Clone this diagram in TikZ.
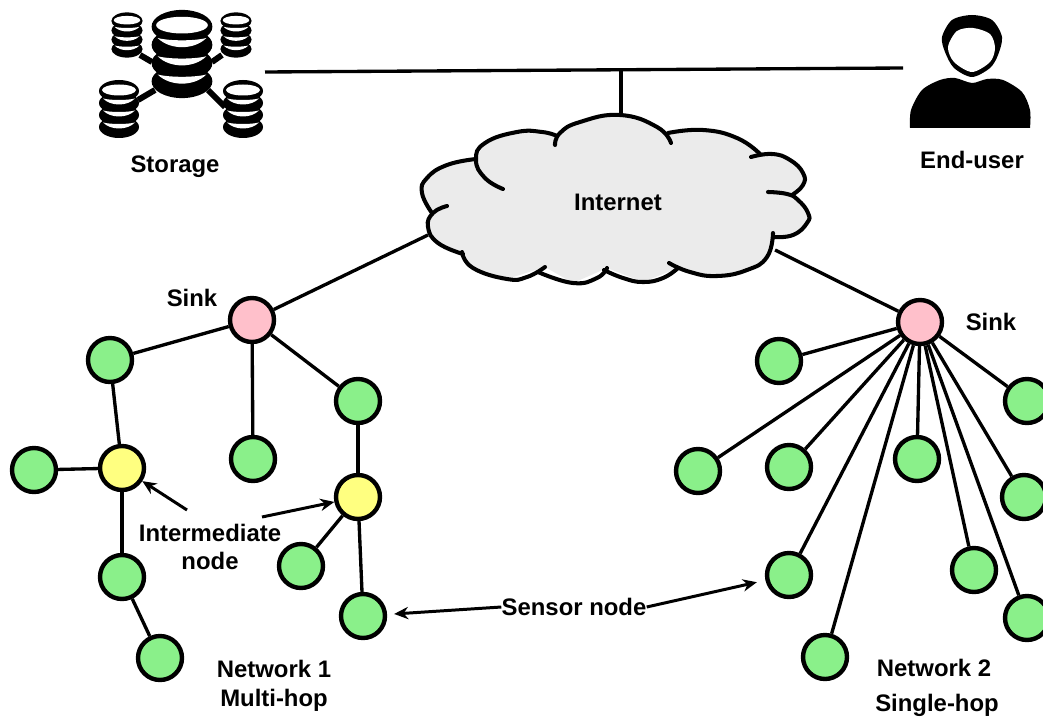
\documentclass[tikz,border=0pt]{standalone}
\usepackage{fontspec}
\setmainfont{Liberation Sans}
\usetikzlibrary{positioning,arrows.meta}
\definecolor{nodegreen}{RGB}{138,240,138}
\definecolor{sinkpink}{RGB}{255,192,203}
\definecolor{hopyellow}{RGB}{255,255,128}
\definecolor{cloudgray}{RGB}{235,235,235}
\tikzset{
  dbicon/.pic={
    \fill (0,-18) ellipse [x radius=20,y radius=11];
    \fill (0,-6) ellipse [x radius=20,y radius=11];
    \fill (0,6) ellipse [x radius=20,y radius=11];
    \fill (0,18) ellipse [x radius=20,y radius=11];
    \fill [white] (0,-19) ellipse [x radius=17,y radius=5.5];
    \fill [white] (-16,-10.5) .. controls (-8,-2.5) and (8,-2.5) .. (16,-10.5) .. controls (8,-8.5) and (-8,-8.5) .. (-16,-10.5);
    \fill [white] (-16,1.5) .. controls (-8,9.5) and (8,9.5) .. (16,1.5) .. controls (8,3.5) and (-8,3.5) .. (-16,1.5);
    \fill [white] (-16,13.5) .. controls (-8,21.5) and (8,21.5) .. (16,13.5) .. controls (8,15.5) and (-8,15.5) .. (-16,13.5);
  }
}
\begin{document}
\begin{tikzpicture}
  [x=0.02cm,y=-0.02cm,
   greenN/.style={circle,draw,line width=2.5pt,fill=nodegreen,minimum size=0.88cm,inner sep=0pt},
   sinkN/.style={greenN,fill=sinkpink},
   hopN/.style={greenN,fill=hopyellow},
   lab/.style={font=\bfseries\fontsize{13.6}{16.4}\selectfont,align=center,inner sep=0pt},
   link/.style={line width=1.9pt},
   lobe/.style={line width=2.3pt,line cap=round},
   pointer/.style={-{Stealth[length=8pt,width=7pt]},line width=1.7pt}]

  \clip (0,0) rectangle (1043,716);

  \fill [cloudgray] (422,193) -- (432,213) -- (428,227) -- (438,243) -- (463,254) -- (473,268) -- (507,279) -- (545,267) -- (573,283) -- (607,268) -- (643,282) -- (678,268) -- (717,276) -- (747,270) -- (767,257) -- (773,237) -- (793,235) -- (807,223) -- (808,213) -- (792,195) -- (803,185) -- (803,173) -- (790,160) -- (760,154) -- (737,138) -- (703,130) -- (668,133) -- (657,127) -- (620,115) -- (580,122) -- (557,136) -- (517,132) -- (485,143) -- (476,159) -- (447,165) -- (427,178) -- cycle;
  \draw [lobe] plot [smooth,tension=0.8] coordinates {(503,189) (485,178) (476,160) (485,143) (517,132) (542,132) (557,136)};
  \draw [lobe] plot [smooth,tension=0.8] coordinates {(476,159) (447,165) (427,178) (422,193) (432,213)};
  \draw [lobe] plot [smooth,tension=0.8] coordinates {(447,206) (433,213) (428,227) (438,243) (463,254)};
  \draw [lobe] plot [smooth,tension=0.8] coordinates {(462,252) (473,268) (507,279) (527,277) (545,267)};
  \draw [lobe] plot [smooth,tension=0.8] coordinates {(538,272) (573,283) (597,278) (607,268)};
  \draw [lobe] plot [smooth,tension=0.8] coordinates {(604,270) (623,278) (643,282) (663,278) (678,268)};
  \draw [lobe] plot [smooth,tension=0.8] coordinates {(669,263) (690,272) (717,276) (747,270) (767,257) (773,233)};
  \draw [lobe] plot [smooth,tension=0.8] coordinates {(773,237) (793,235) (807,223) (808,213) (798,200) (787,194) (768,192)};
  \draw [lobe] plot [smooth,tension=0.8] coordinates {(792,195) (803,185) (803,173) (790,160) (772,154) (751,157)};
  \draw [lobe] plot [smooth,tension=0.8] coordinates {(760,154) (737,138) (703,130) (668,133)};
  \draw [lobe] plot [smooth,tension=0.8] coordinates {(671,143) (657,127) (620,115) (580,122) (560,133) (555,145)};

  \draw [line width=3.4pt] (152,62) -- (140,55) (212,62) -- (222,55) (155,90) -- (138,100) (208,90) -- (225,107);
  \pic [scale=1.52] at (182,54) {dbicon};
  \pic [scale=0.78] at (127,35) {dbicon};
  \pic [scale=0.78] at (236,35) {dbicon};
  \pic at (119,109) {dbicon};
  \pic at (243,109) {dbicon};

  \fill plot [smooth] coordinates {(910,128) (911,110) (922,90) (940,80) (955,78) (972,83) (987,79) (1003,80) (1022,92) (1030,110) (1030,128)} -- cycle;
  \fill plot [smooth cycle] coordinates {(942,37) (952,20) (972,15) (992,20) (1002,37) (998,55) (990,68) (972,77) (954,68) (945,52)};
  \fill [white] plot [smooth cycle] coordinates {(948,47) (957,31) (973,28) (990,34) (995,48) (990,62) (972,72) (954,62)};

  \node at (252,320)  [sinkN] (sink1) {};
  \node at (110,360)  [greenN] (a1) {};
  \node at (253,459)  [greenN] (a2) {};
  \node at (358,401)  [greenN] (a3) {};
  \node at (122,468)  [hopN] (hop1) {};
  \node at (358,497)  [hopN] (hop2) {};
  \node at (34,470)   [greenN] (a4) {};
  \node at (122,577)  [greenN] (a5) {};
  \node at (160,658)  [greenN] (a6) {};
  \node at (301,566)  [greenN] (a7) {};
  \node at (363,616)  [greenN] (a8) {};

  \node at (920,322)  [sinkN] (sink2) {};
  \node at (779,361)  [greenN] (b1) {};
  \node at (698,471)  [greenN] (b2) {};
  \node at (789,467)  [greenN] (b3) {};
  \node at (917,459)  [greenN] (b4) {};
  \node at (1027,401) [greenN] (b5) {};
  \node at (1024,497) [greenN] (b6) {};
  \node at (789,575)  [greenN] (b7) {};
  \node at (974,570)  [greenN] (b8) {};
  \node at (1027,618) [greenN] (b9) {};
  \node at (825,657)  [greenN] (b10) {};

  \node at (175,167) [lab] (storage) {Storage};
  \node at (972,160) [lab] (user) {End-user};
  \node at (618,202) [lab] (internet) {Internet};
  \node at (192,298) [lab] (sinklab1) {Sink};
  \node at (991,322) [lab] (sinklab2) {Sink};
  \node at (210,547) [lab] (interm) {Intermediate\\node};
  \node at (574,607) [lab] (sensor) {Sensor node};
  \node at (274,686) [lab] (net1) {Network 1\\Multi-hop};
  \node at (934,668) [lab] (net2) {Network 2};
  \node at (937,705) [lab] (hop) {Single-hop};

  \coordinate (storeend) at (265,72);
  \coordinate (userend) at (903,68);
  \coordinate (backbone) at (621,70);
  \coordinate (cloudtop) at (621,115);
  \coordinate (cloudleft) at (428,235);
  \coordinate (cloudright) at (775,250);
  \coordinate (intermA) at (187,510);
  \coordinate (intermB) at (262,517);

  \draw [link] (storeend) -- (userend);
  \draw [link] (backbone) -- (cloudtop);
  \draw [link] (cloudleft) -- (sink1);
  \draw [link] (cloudright) -- (sink2);

  \draw [link] (sink1) -- (a1);
  \draw [link] (sink1) -- (a2);
  \draw [link] (sink1) -- (a3);
  \draw [link] (a1) -- (hop1);
  \draw [link] (a3) -- (hop2);
  \draw [link] (hop1) -- (a4);
  \draw [link] (hop1) -- (a5);
  \draw [link] (a5) -- (a6);
  \draw [link] (hop2) -- (a7);
  \draw [link] (hop2) -- (a8);

  \draw [link] (sink2) -- (b1);
  \draw [link] (sink2) -- (b2);
  \draw [link] (sink2) -- (b3);
  \draw [link] (sink2) -- (b4);
  \draw [link] (sink2) -- (b5);
  \draw [link] (sink2) -- (b6);
  \draw [link] (sink2) -- (b7);
  \draw [link] (sink2) -- (b8);
  \draw [link] (sink2) -- (b9);
  \draw [link] (sink2) -- (b10);

  \draw [pointer] (intermA) -- (hop1);
  \draw [pointer] (intermB) -- (hop2);
  \draw [pointer,shorten >=4pt] (sensor.west) -- (a8);
  \draw [pointer,shorten >=5pt] (sensor.east) -- (b7);
\end{tikzpicture}
\end{document}
